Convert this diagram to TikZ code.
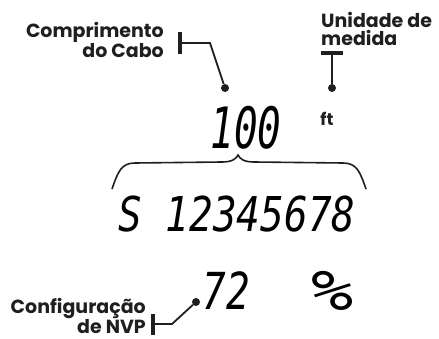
\documentclass[tikz,border=0pt]{standalone}
\usepackage{fontspec}
\setmainfont{Poppins}
\newfontfamily\lcdfont{DejaVu Sans Mono}

\begin{document}
\begin{tikzpicture}[
    x=1pt, y=-1pt,
    callout/.style={
        inner sep=0pt,
        text=black!88,
        font=\fontsize{19}{18}\selectfont\bfseries
    },
    lcd/.style={
        inner sep=0pt,
        text=black,
        font=\lcdfont\itshape
    },
    leader/.style={draw=black!88, line width=1.8pt},
    bar/.style={draw=black!88, line width=4pt},
    tip/.style={circle, fill=black!88, inner sep=0pt, minimum size=8pt}
]
    \useasboundingbox (0,0) rectangle (439,339);

    % labels
    \node[callout, align=right, anchor=north east] (cabo) at (164,22)
        {Comprimento\\do Cabo};
    \node[callout, align=left, anchor=north west] (unidade) at (321,12)
        {Unidade de\\medida};
    \node[callout, align=right, anchor=north east] (nvp) at (146,298)
        {Configuração\\de NVP};

    % display
    \node[lcd, xscale=.69, font=\lcdfont\itshape\fontsize{57}{57}\selectfont]
        (length) at (246,128) {100};
    \node[callout, font=\fontsize{17}{17}\selectfont\bfseries]
        (unit) at (327,119) {ft};
    \node[lcd, xscale=.82, font=\lcdfont\itshape\fontsize{48}{48}\selectfont]
        (pairs) at (237,214) {S 12345678};
    \node[lcd, xscale=.77, font=\lcdfont\itshape\fontsize{51}{51}\selectfont]
        (nvpval) at (226,291) {72};
    \node[lcd, xscale=1.25, font=\lcdfont\itshape\fontsize{56}{56}\selectfont]
        (percent) at (333,291) {\%};

    % pointers
    \node[tip] (cabotip) at (225,88) {};
    \node[tip] (unidadetip) at (332,88) {};
    \node[tip] (nvptip) at (196,302) {};

    \coordinate (cabobar) at (180,43);
    \coordinate (unidadebar) at (332,53);
    \coordinate (nvpbar) at (153,324);

    \draw[bar] (180,32) -- (180,54);
    \draw[bar] (321,53) -- (343,53);
    \draw[bar] (153,314) -- (153,335);

    \draw[leader] (cabobar) -- (210,43) -- (cabotip);
    \draw[leader] (unidadebar) -- (unidadetip);
    \draw[leader] (nvpbar) -- (172,324) -- (nvptip);

    % brace
    \draw[leader, line width=1.6pt]
        (112,189) .. controls (118,172) and (121,163) .. (135,163)
        -- (222,162) .. controls (232,162) and (236,159) .. (238,155)
        .. controls (240,159) and (244,162) .. (254,162)
        -- (343,163) .. controls (357,163) and (360,172) .. (366,189);
\end{tikzpicture}
\end{document}
